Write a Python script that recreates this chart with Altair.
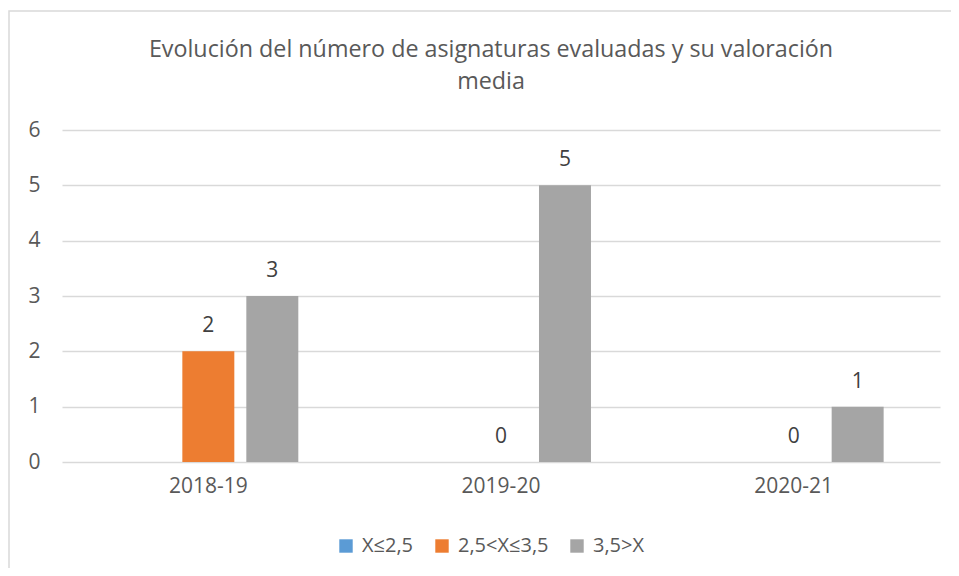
import altair as alt
import pandas as pd

years = ["2018-19", "2019-20", "2020-21"]
series = ["X≤2,5", "2,5<X≤3,5", "3,5>X"]
colors = ["#5B9BD5", "#ED7D31", "#A5A5A5"]
v_low = [None, None, None]
v_mid = [2, 0, 0]
v_high = [3, 5, 1]
y_ticks = [0, 1, 2, 3, 4, 5, 6]

rows = []
for s, vals in zip(series, [v_low, v_mid, v_high]):
    for yr, v in zip(years, vals):
        rows.append({"year": yr, "serie": s, "valor": v})
df = pd.DataFrame(rows)

FONT = "Open Sans"
TXT = "#595959"

x_enc = alt.X(
    "year:N", sort=years,
    scale=alt.Scale(paddingInner=0.344, paddingOuter=0.172),
    axis=alt.Axis(title=None, labelAngle=0, ticks=False, domain=False, grid=False,
                  labelPadding=13, labelFontSize=21, labelColor=TXT, labelFont=FONT),
)
xoff_enc = alt.XOffset("serie:N", sort=series,
                       scale=alt.Scale(domain=series, paddingInner=0.1875, paddingOuter=0.094))
y_enc = alt.Y(
    "valor:Q", scale=alt.Scale(domain=[0, 6]),
    axis=alt.Axis(title=None, values=y_ticks, ticks=False, domain=False, grid=True,
                  gridColor="#d9d9d9", gridWidth=1.3, labelPadding=22,
                  labelFontSize=21, labelColor=TXT, labelFont=FONT),
)

base = alt.Chart(df)

bars = base.mark_bar().encode(
    x=x_enc, xOffset=xoff_enc, y=y_enc,
    color=alt.Color(
        "serie:N", sort=series,
        scale=alt.Scale(domain=series, range=colors),
        legend=alt.Legend(title=None, orient="none", direction="horizontal",
                          legendX=274, legendY=406, symbolType="square",
                          symbolSize=180, symbolStrokeWidth=0, labelFontSize=20,
                          labelFont=FONT, labelColor=TXT, columnPadding=18,
                          labelOffset=6),
    ),
)

labels = base.mark_text(baseline="middle", dy=-25, fontSize=21, font=FONT,
                        color="#404040").encode(
    x=x_enc, xOffset=xoff_enc, y=y_enc, text=alt.Text("valor:Q"),
)

frame = alt.Chart(pd.DataFrame({"b": [0]})).mark_rect(
    filled=False, stroke="#d9d9d9", strokeWidth=1.5
).encode(x=alt.value(-53), x2=alt.value(1000), y=alt.value(-119), y2=alt.value(1000))

chart = alt.layer(frame, bars, labels).properties(
    width=878, height=332,
    title=alt.TitleParams(
        text=["Evolución del número de asignaturas evaluadas y su valoración", "media"],
        font=FONT, fontSize=23.3, fontWeight="normal", color=TXT, lineHeight=32,
        anchor="middle", frame="group", dx=-10, offset=-84,
    ),
    autosize=alt.AutoSizeParams(type="none"),
    padding={"left": 54, "top": 122, "right": 11, "bottom": 106},
).configure_view(stroke=None)

chart.save("out.html", embed_options={"renderer": "svg", "actions": False})
